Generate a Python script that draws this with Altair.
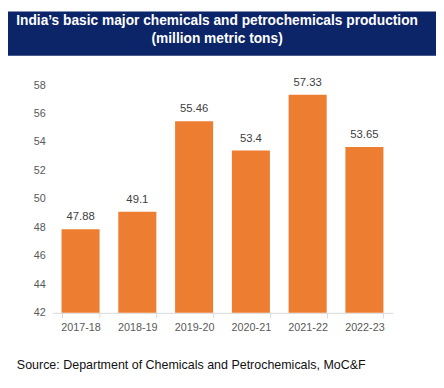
import altair as alt
import pandas as pd

years = ["2017-18", "2018-19", "2019-20", "2020-21", "2021-22", "2022-23"]
production = [47.88, 49.1, 55.46, 53.4, 57.33, 53.65]
labels = ["47.88", "49.1", "55.46", "53.4", "57.33", "53.65"]
y_ticks = [42, 44, 46, 48, 50, 52, 54, 56, 58]
title_lines = ["India\u2019s basic major chemicals and petrochemicals production", "(million metric tons)"]
source_text = "Source: Department of Chemicals and Petrochemicals, MoC&F"

df = pd.DataFrame({"year": years, "value": production, "label": labels})

NAVY = "#0c2468"
ORANGE = "#ed7d31"

x_enc = alt.X("year:N", sort=years, title=None,
              scale=alt.Scale(paddingInner=0.33, paddingOuter=0.165),
              axis=alt.Axis(labelAngle=0, domainColor="#d9d9d9", tickColor="#d9d9d9",
                            tickSize=5, tickBand="extent", labelPadding=4,
                            labelColor="#595959", labelFontSize=11, labelFont="Liberation Sans"))
y_enc = alt.Y("value:Q", title=None,
              scale=alt.Scale(domain=[42, 58], nice=False, zero=False),
              axis=alt.Axis(values=y_ticks, tickCount=20, domain=False, ticks=False, grid=False,
                            labelOverlap=False,
                            labelPadding=7, labelColor="#595959", labelFontSize=11,
                            labelFont="Liberation Sans"))

base = alt.Chart(df)
bars = base.mark_bar(color=ORANGE, clip=True).encode(x=x_enc, y=y_enc)
text = base.mark_text(baseline="alphabetic", dy=-9, fontSize=11.5, color="#404040",
                      font="Liberation Sans").encode(x=alt.X("year:N", sort=years), y="value:Q", text="label:N")

header = alt.Chart(pd.DataFrame({"a": [0]})).mark_rect(color=NAVY).encode(
    x=alt.value(-45), x2=alt.value(391), y=alt.value(-75), y2=alt.value(-30))
t1 = alt.Chart(pd.DataFrame({"t": [title_lines[0]]})).mark_text(
    color="white", fontSize=14, fontWeight="bold", font="Liberation Sans",
    align="center", baseline="alphabetic").encode(text="t:N", x=alt.value(168), y=alt.value(-61))
t2 = alt.Chart(pd.DataFrame({"t": [title_lines[1]]})).mark_text(
    color="white", fontSize=14, fontWeight="bold", font="Liberation Sans",
    align="center", baseline="alphabetic").encode(text="t:N", x=alt.value(168), y=alt.value(-43))
src = alt.Chart(pd.DataFrame({"t": [source_text]})).mark_text(
    color="#111111", fontSize=12.7, font="Liberation Sans",
    align="left", baseline="alphabetic").encode(text="t:N", x=alt.value(-36), y=alt.value(289))

chart = alt.layer(header, t1, t2, bars, text, src).properties(
    width=347, height=232,
    autosize=alt.AutoSizeParams(type="none"),
    padding={"left": 45, "top": 75, "right": 44, "bottom": 73},
    background="white",
).configure_view(stroke=None)

chart.save("out.html", embed_options={"renderer": "svg", "actions": False})
